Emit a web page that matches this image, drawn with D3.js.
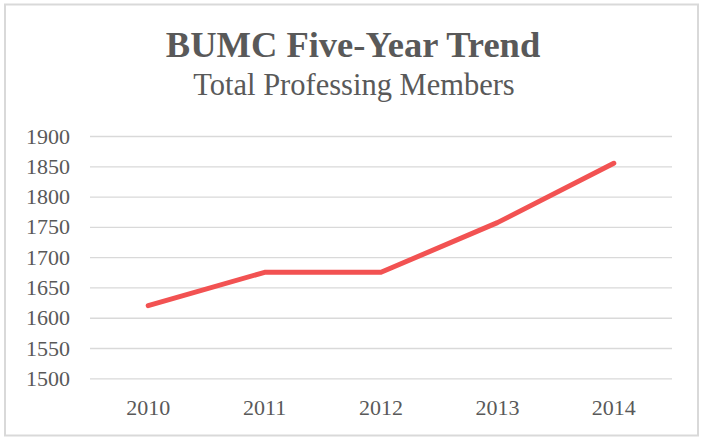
<!DOCTYPE html>
<html>
<head>
<meta charset="utf-8">
<script src="https://cdn.jsdelivr.net/npm/d3@7"></script>
<style>
  html, body { margin: 0; padding: 0; background: #fff; }
  svg { display: block; }
  text { font-family: "Liberation Serif", "Times New Roman", serif; fill: #595959; }
</style>
</head>
<body>
<script>
const years = ["2010", "2011", "2012", "2013", "2014"];
const members = [1620, 1675, 1675, 1757, 1855];
const yTicks = [1500, 1550, 1600, 1650, 1700, 1750, 1800, 1850, 1900];
const titleText = "BUMC Five-Year Trend";
const subtitleText = "Total Professing Members";

const W = 703, H = 439;
const svg = d3.select("body").append("svg").attr("width", W).attr("height", H);

svg.append("rect")
  .attr("x", 5).attr("y", 4.5).attr("width", 693).attr("height", 431)
  .attr("fill", "#fff").attr("stroke", "#d9d9d9").attr("stroke-width", 2);

const x = d3.scaleBand().domain(years).range([90, 672]).padding(0);
const y = d3.scaleLinear().domain([1500, 1900]).range([378.3, 136]);

// gridlines
const yAxis = d3.axisLeft(y).tickValues(yTicks).tickSize(-(672 - 90)).tickPadding(20).tickFormat(d3.format("d"));
const gy = svg.append("g").attr("transform", "translate(90,0)").call(yAxis);
gy.select(".domain").remove();
gy.selectAll(".tick line").attr("stroke", "#d9d9d9").attr("stroke-width", 1.3);
gy.selectAll(".tick text").attr("font-size", 22).attr("fill", "#595959")
  .style("font-family", "'Liberation Serif', serif");

const xAxis = d3.axisBottom(x).tickSize(0).tickPadding(21);
const gx = svg.append("g").attr("transform", "translate(0,378.3)").call(xAxis);
gx.select(".domain").remove();
gx.selectAll(".tick text").attr("font-size", 22).attr("fill", "#595959")
  .style("font-family", "'Liberation Serif', serif");

const line = d3.line()
  .x((d, i) => x(years[i]) + x.bandwidth() / 2)
  .y(d => y(d));

svg.append("path")
  .datum(members)
  .attr("d", line)
  .attr("fill", "none")
  .attr("stroke", "#F25252")
  .attr("stroke-width", 5)
  .attr("stroke-linejoin", "round")
  .attr("stroke-linecap", "round");

svg.append("text")
  .attr("x", 353).attr("y", 57)
  .attr("text-anchor", "middle")
  .attr("font-size", 36.5).attr("font-weight", "bold")
  .text(titleText);

svg.append("text")
  .attr("x", 354).attr("y", 95)
  .attr("text-anchor", "middle")
  .attr("font-size", 30.5)
  .text(subtitleText);
</script>
</body>
</html>
